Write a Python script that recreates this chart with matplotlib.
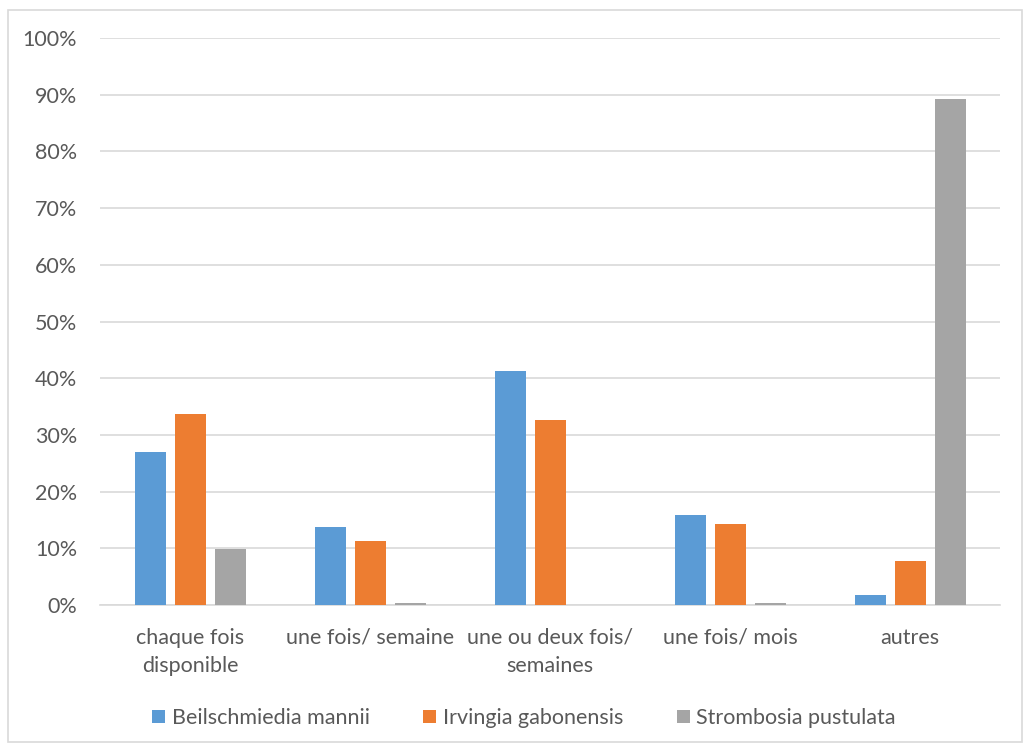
import matplotlib
matplotlib.use("Agg")
import matplotlib.pyplot as plt
import numpy as np
from matplotlib.patches import Rectangle
from matplotlib.ticker import FuncFormatter, MultipleLocator

categories = ["chaque fois\ndisponible", "une fois/ semaine", "une ou deux fois/\nsemaines",
              "une fois/ mois", "autres"]
beilschmiedia = [26.9, 13.8, 41.2, 15.9, 1.75]
irvingia = [33.7, 11.3, 32.7, 14.2, 7.8]
strombosia = [9.9, 0.3, 0.0, 0.3, 89.2]
series_names = ["Beilschmiedia mannii", "Irvingia gabonensis", "Strombosia pustulata"]
colors = ["#5B9BD5", "#ED7D31", "#A5A5A5"]

plt.rcParams['font.family'] = ['Lato', 'DejaVu Sans']
text_color = "#595959"
fs = 15.5

fig = plt.figure(figsize=(10.30, 7.52), dpi=100)
ax = fig.add_axes([100/1030, 1-605/752, 900/1030, 567/752])

x = np.arange(len(categories))
step = 40/180
width = 31/180
for i, (vals, name, c) in enumerate(zip([beilschmiedia, irvingia, strombosia], series_names, colors)):
    ax.bar(x + (i-1)*step, vals, width, color=c, label=name, zorder=3)

ax.set_xlim(-0.5, len(categories)-0.5)
ax.set_ylim(0, 100)
ax.yaxis.set_major_locator(MultipleLocator(10))
ax.yaxis.set_major_formatter(FuncFormatter(lambda v, p: f"{v:.0f}%"))
ax.grid(axis='y', color="#D9D9D9", linewidth=1.2, zorder=0)
for s in ['top', 'right', 'left']:
    ax.spines[s].set_visible(False)
ax.spines['bottom'].set_color("#D9D9D9")
ax.spines['bottom'].set_linewidth(1.2)
ax.tick_params(axis='both', length=0, colors=text_color, labelsize=fs)
ax.tick_params(axis='y', pad=16.5)
ax.tick_params(axis='x', pad=16.5)
ax.set_xticks(x)
ax.set_xticklabels(categories, linespacing=1.5)

handles, labels = ax.get_legend_handles_labels()
leg = fig.legend(handles, labels, loc='center', bbox_to_anchor=(524/1030, 1-718/752), ncol=3,
                 frameon=False, fontsize=fs, handlelength=0.6, handleheight=0.6,
                 handletextpad=0.3, columnspacing=2.5)
for t in leg.get_texts():
    t.set_color(text_color)

fig.patches.append(Rectangle((8/1030, 10/752), 1014/1030, 732/752, transform=fig.transFigure,
                             fill=False, edgecolor="#D9D9D9", linewidth=1.2))

fig.savefig("out.png", dpi=100)
